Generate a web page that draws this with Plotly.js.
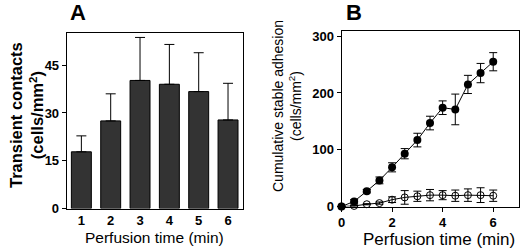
<!DOCTYPE html>
<html>
<head>
<meta charset="utf-8">
<script src="https://cdn.plot.ly/plotly-3.0.1.min.js"></script>
<style>
html,body{margin:0;padding:0;background:#fff;}
#chart{width:520px;height:249px;}
</style>
</head>
<body>
<div id="chart"></div>
<script>
// Panel A: transient contacts per minute
const barMinutes = [1, 2, 3, 4, 5, 6];
const transientContacts = [17.8, 27.5, 40.2, 39.0, 36.7, 27.8];
const transientErr = [5.0, 8.5, 13.5, 12.5, 12.2, 11.5];
const transientTicks = [0, 15, 30, 45];

// Panel B: cumulative stable adhesion
const timeMin = [0, 0.5, 1, 1.5, 2, 2.5, 3, 3.5, 4, 4.5, 5, 5.5, 6];
const adhesionFilled = [0, 9, 27, 46, 69, 93, 117, 147, 174, 171, 215, 235, 255];
const adhesionFilledErr = [0, 3, 3, 6, 8, 9, 12, 12, 12, 27, 16, 17, 16];
const adhesionOpen = [0, 1, 4, 6, 12, 16, 18, 20, 20, 19, 20, 20, 19];
const adhesionOpenErr = [0, 1, 1, 2, 5, 12, 9, 10, 8, 10, 11, 13, 10];
const adhesionTicks = [0, 100, 200, 300];
const timeTicks = [0, 2, 4, 6];

const W = 520, H = 249;
const fx = p => p / W;
const fy = p => 1 - p / H;
const FONT = 'Arial, "Liberation Sans", sans-serif';

const traces = [
  {
    type: 'bar', x: barMinutes, y: transientContacts, xaxis: 'x', yaxis: 'y',
    marker: {color: '#333333', line: {color: '#000', width: 1}},
    error_y: {type: 'data', symmetric: false, array: transientErr,
      arrayminus: transientErr.map(() => 0), color: '#000', thickness: 1, width: 5},
    showlegend: false, hoverinfo: 'skip'
  },
  {
    type: 'scatter', mode: 'lines+markers', x: timeMin, y: adhesionOpen, xaxis: 'x2', yaxis: 'y2',
    line: {color: '#000', width: 1},
    marker: {symbol: 'circle-open', size: 7, color: '#000', line: {width: 1, color: '#000'}},
    error_y: {type: 'data', array: adhesionOpenErr, color: '#000', thickness: 1, width: 4},
    showlegend: false, hoverinfo: 'skip', cliponaxis: false
  },
  {
    type: 'scatter', mode: 'lines+markers', x: timeMin, y: adhesionFilled, xaxis: 'x2', yaxis: 'y2',
    line: {color: '#000', width: 1},
    marker: {symbol: 'circle', size: 8, color: '#000'},
    error_y: {type: 'data', array: adhesionFilledErr, color: '#000', thickness: 1, width: 4},
    showlegend: false, hoverinfo: 'skip', cliponaxis: false
  }
];

const axBase = {
  showline: true, mirror: true, linecolor: '#000', linewidth: 1,
  showgrid: false, zeroline: false, ticks: 'outside', ticklen: 4, tickwidth: 1, tickcolor: '#000',
  tickfont: {family: FONT, size: 13, color: '#000', weight: 'bold'},
  fixedrange: true
};

const layout = {
  width: W, height: H,
  margin: {l: 0, r: 0, t: 0, b: 0},
  paper_bgcolor: '#fff', plot_bgcolor: '#fff',
  bargap: 0.32,
  font: {family: FONT, color: '#000'},
  xaxis: Object.assign({}, axBase, {
    domain: [fx(66.7), fx(242.7)], anchor: 'y', range: [0.5, 6.5],
    tickvals: barMinutes, ticks: '', ticklen: 0
  }),
  yaxis: Object.assign({}, axBase, {
    domain: [fy(208.5), fy(33.3)], anchor: 'x', range: [0, 55],
    tickvals: transientTicks
  }),
  xaxis2: Object.assign({}, axBase, {
    domain: [fx(341.5), fx(518.5)], anchor: 'y2', range: [0, 7],
    tickvals: timeTicks
  }),
  yaxis2: Object.assign({}, axBase, {
    domain: [fy(206.5), fy(30.5)], anchor: 'x2', range: [0, 310],
    tickvals: adhesionTicks
  }),
  annotations: [
    {text: '<b>A</b>', x: fx(78), y: fy(12.5), xref: 'paper', yref: 'paper',
     xanchor: 'center', yanchor: 'middle', showarrow: false,
     font: {family: FONT, size: 22, color: '#000'}},
    {text: '<b>B</b>', x: fx(354), y: fy(12), xref: 'paper', yref: 'paper',
     xanchor: 'center', yanchor: 'middle', showarrow: false,
     font: {family: FONT, size: 22, color: '#000'}},
    {text: '<b>Transient contacts<br>(cells/mm<sup>2</sup>)</b>', x: fx(27), y: fy(115),
     xref: 'paper', yref: 'paper', xanchor: 'center', yanchor: 'middle', textangle: -90,
     showarrow: false, font: {family: FONT, size: 16.5, color: '#000'}},
    {text: 'Cumulative stable adhesion<br>(cells/mm<sup>2</sup>)', x: fx(287), y: fy(106),
     xref: 'paper', yref: 'paper', xanchor: 'center', yanchor: 'middle', textangle: -90,
     showarrow: false, font: {family: FONT, size: 14, color: '#000'}},
    {text: 'Perfusion time (min)', x: fx(154), y: fy(237), xref: 'paper', yref: 'paper',
     xanchor: 'center', yanchor: 'middle', showarrow: false,
     font: {family: FONT, size: 15.5, color: '#000'}},
    {text: 'Perfusion time (min)', x: fx(439), y: fy(239), xref: 'paper', yref: 'paper',
     xanchor: 'center', yanchor: 'middle', showarrow: false,
     font: {family: FONT, size: 17, color: '#000'}}
  ]
};

Plotly.newPlot('chart', traces, layout, {displayModeBar: false, staticPlot: true});
</script>
</body>
</html>
